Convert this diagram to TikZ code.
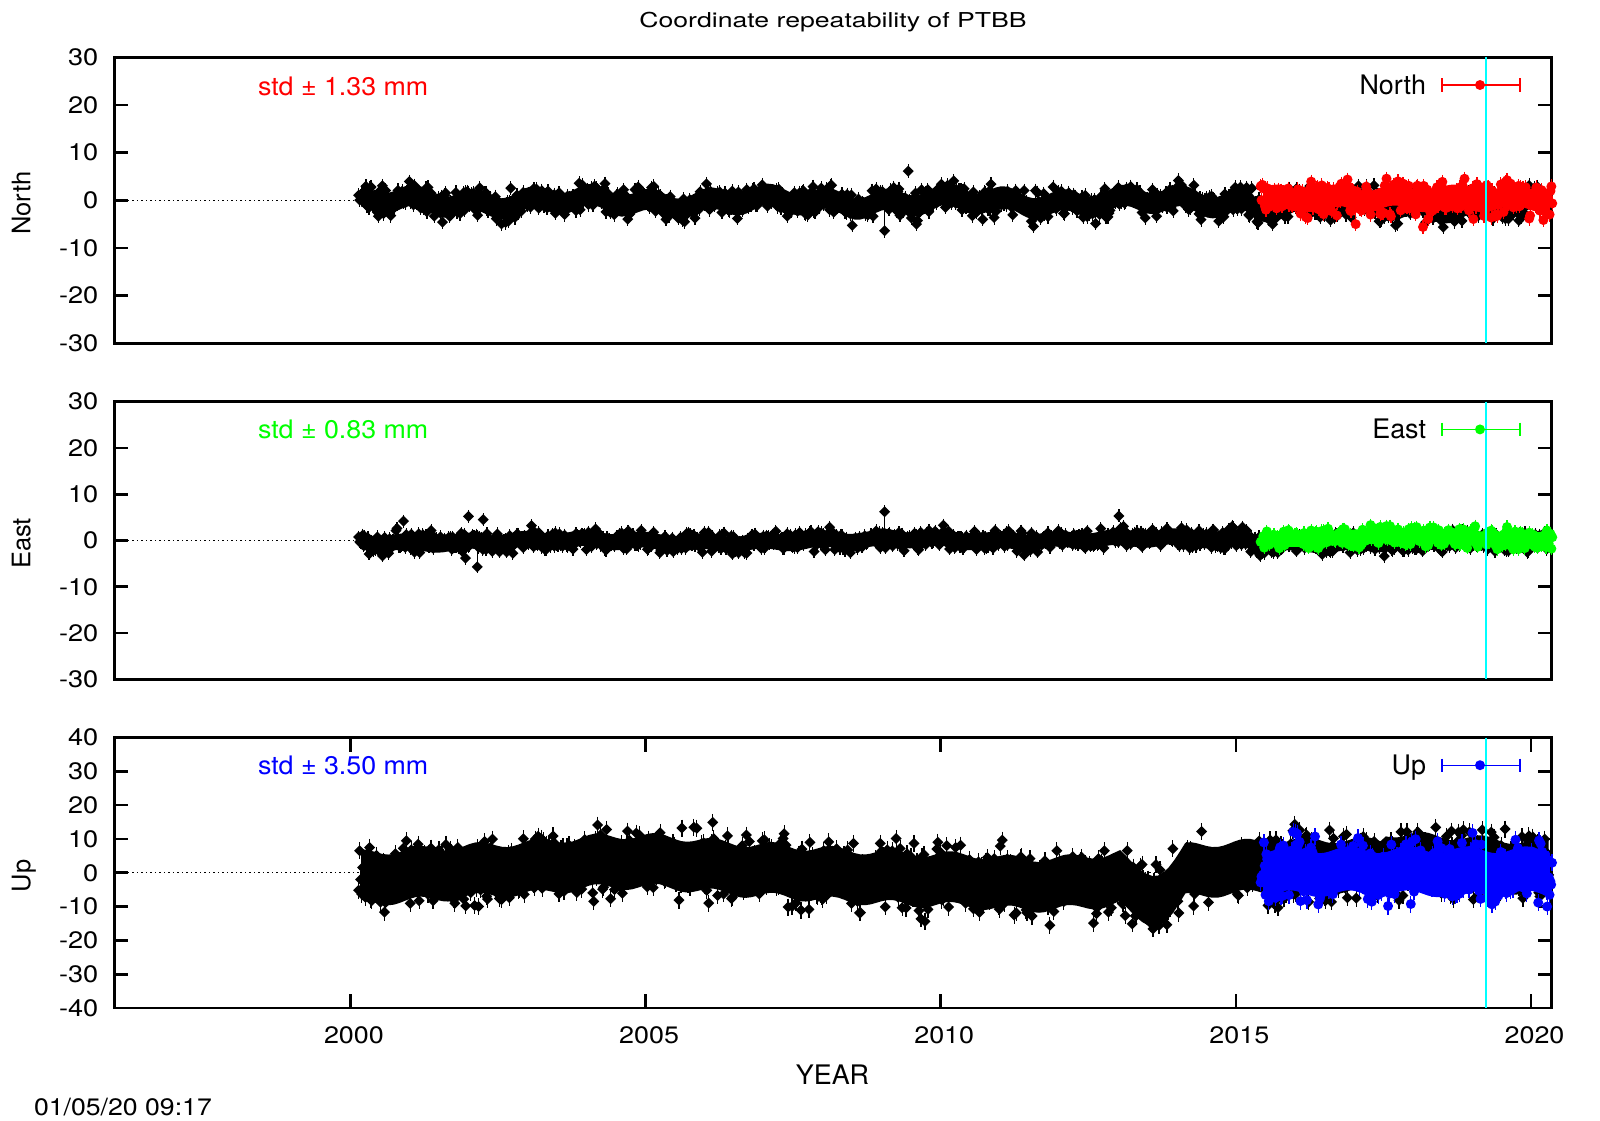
\documentclass[tikz,border=0pt]{standalone}
\usepackage{fontspec}
\setmainfont{TeX Gyre Heros}
\usepackage{graphicx}
\definecolor{gpred}{RGB}{255,0,0}
\definecolor{gpgreen}{RGB}{0,255,0}
\definecolor{gpblue}{RGB}{0,0,255}
\definecolor{gpcyan}{RGB}{0,255,255}
\newcommand\gpErr{7pt}
\newcommand\gptxt[3]{{\fontsize{#1pt}{#1pt}\selectfont\scalebox{#2}[1]{#3}}}
\pgfdeclareplotmark{gpdia}{%
  \pgfpathmoveto{\pgfqpoint{0pt}{\gpErr}}%
  \pgfpathlineto{\pgfqpoint{0pt}{-\gpErr}}%
  \pgfusepathqstroke
  \pgfpathmoveto{\pgfqpoint{0pt}{\pgfplotmarksize}}%
  \pgfpathlineto{\pgfqpoint{\pgfplotmarksize}{0pt}}%
  \pgfpathlineto{\pgfqpoint{0pt}{-\pgfplotmarksize}}%
  \pgfpathlineto{\pgfqpoint{-\pgfplotmarksize}{0pt}}%
  \pgfpathclose
  \pgfusepathqfill}
\pgfdeclareplotmark{gpdot}{%
  \pgfpathmoveto{\pgfqpoint{0pt}{\gpErr}}%
  \pgfpathlineto{\pgfqpoint{0pt}{-\gpErr}}%
  \pgfusepathqstroke
  \pgfpathcircle{\pgfpointorigin}{\pgfplotmarksize}%
  \pgfusepathqfill}
\tikzset{
  gpborder/.style={line width=2.7pt,draw=black},
  gptick/.style={line width=2.7pt,draw=black},
  gpzero/.style={line width=1pt,dash pattern=on 1.5pt off 3pt},
  gpcyanline/.style={line width=2pt,draw=gpcyan},
  ytl/.style={anchor=east,inner sep=0pt,outer sep=0pt},
  xtl/.style={anchor=base,inner sep=0pt,outer sep=0pt},
  gptext/.style={inner sep=0pt,outer sep=0pt},
  gpdata/.style={line width=1.2pt,mark size=5.5pt},
  gpdatac/.style={line width=1.2pt,mark size=5pt},
  keybar/.style={line width=1.4pt},
}
\begin{document}
\begin{tikzpicture}[x=1pt,y=-1pt,
  declare function={
    sw(\f,\t,\p)=sin(360*mod(\f*\t,1)+\p);
    sN(\t)=1.0*sin(360*\t+60)+0.6*sin(111.6*\t+20)-0.3-0.8*(\t>15.3);
    fN(\t)=0.5*sw(3.7,\t,70)+0.4*sw(6.3,\t,0);
    sR(\t)=0.7*sin(360*\t+200)+0.4;
    fR(\t)=0.6*sw(4.3,\t,10)+0.4*sw(7.7,\t,0);
    sE(\t)=0.4*sin(360*\t+100)+0.35*sin(72*\t+180)-0.2+0.4*(\t>9)-0.6*(\t>15.3);
    fE(\t)=0.3*sw(5.3,\t,0)+0.25*sw(8.9,\t,30);
    sG(\t)=0.2+0.8*max(0,1-((\t-17.8)/1.5)^2);
    fG(\t)=0.3*sw(4,\t,0)+0.25*sw(7,\t,50);
    sU(\t)=2.2*sin(30*\t-50)+1.0*sin(360*\t+30)+1.2*max(0,1-((\t-4.8)/1.5)^2)-1.5*max(0,1-((\t-12)/1.5)^2)-7.5*max(0,1-((\t-13.6)/0.55)^2)+2*(\t>17.5);
    fU(\t)=0.8*sw(4.1,\t,0)+0.6*sw(6.7,\t,40);
    sB(\t)=0.3+1.0*sin(360*\t+120);
    fB(\t)=0.8*sw(3.7,\t,0)+0.6*sw(5.7,\t,20);
  }]
\useasboundingbox (0,0) rectangle (1600,1120);
\fill[white] (0,0) rectangle (1600,1120);

% ---------------- title -----------------
\node[gptext,anchor=base] (title) at (833,27.3) {\gptxt{20.5}{1.3}{Coordinate repeatability of PTBB}};

% ---------------- panel 1 : North -----------------
\draw[gpzero] (114.3,200.3) -- (1551.7,200.3);
\draw[gpborder] (114.3,57.3) rectangle (1551.7,343.3);
\foreach \m in {-20,-10,0,10,20} {
  \draw[gptick] (114.3,{200.3-4.767*\m}) -- ++(14,0);
  \draw[gptick] (1551.7,{200.3-4.767*\m}) -- ++(-14,0);
}
\foreach \m [count=\i] in {-30,-20,-10,0,10,20,30}
  \node[ytl] (pay\i) at (98.3,{200.3-4.767*\m}) {\gptxt{23.8}{1.14}{\m}};
\node[gptext,anchor=base,rotate=90] (ylabA) at (30.3,203.3) {\gptxt{25.5}{1.0}{North}};
\begin{scope}[shift={(350.4,200.3)},x=59.03pt,y=4.767pt]
  \renewcommand\gpErr{7pt}
  \pgfmathsetseed{7}
  \fill[black] plot[samples=220,domain=0.18:20.3] (\x,{sN(\x)+2.2}) -- plot[samples=220,domain=20.3:0.18] (\x,{sN(\x)-2.2}) -- cycle;
  \draw[black,gpdata] plot[only marks,mark=gpdia,samples=1150,domain=0.14:20.3] (\x,{sN(\x)+fN(\x)+1.85*(rand+rand)});
  \draw[black,line width=1.2pt] (9.05,-1) -- (9.05,-6.3);
  \draw[black,gpdata] plot[only marks,mark=gpdia] coordinates {(9.05,-6.4) (9.45,6.1)};
  \fill[gpred] plot[samples=100,domain=15.46:20.32] (\x,{sR(\x)+2.2}) -- plot[samples=100,domain=20.32:15.46] (\x,{sR(\x)-2.2}) -- cycle;
  \draw[gpred,gpdatac] plot[only marks,mark=gpdot,samples=330,domain=15.42:20.36] (\x,{sR(\x)+fR(\x)+2.1*(rand+rand)});
  \draw[gpred,line width=1.2pt] (17.03,-1) -- (17.03,-5);
  \draw[gpred,gpdatac] plot[only marks,mark=gpdot] coordinates {(17.03,-5) (18.17,-5.6)};
\end{scope}
\draw[gpcyanline] (1486,57.3) -- (1486,343.3);
\node[gptext,anchor=base west,text=gpred] (stdA) at (258,95) {\gptxt{25.5}{1.05}{std ± 1.33 mm}};
\node[gptext,anchor=base east] (keyA) at (1426,94.3) {\gptxt{26.9}{1.0}{North}};
\coordinate (kAl) at (1442,85);
\coordinate (kAr) at (1520,85);
\coordinate (kAc) at (1480,85);
\draw[gpred,keybar] (kAl) -- (kAr);
\draw[gpred,keybar] ([yshift=6.7pt]kAl) -- ([yshift=-6.7pt]kAl);
\draw[gpred,keybar] ([yshift=6.7pt]kAr) -- ([yshift=-6.7pt]kAr);
\fill[gpred] (kAc) circle[radius=5pt];

% ---------------- panel 2 : East -----------------
\draw[gpzero] (114.3,540.5) -- (1551.7,540.5);
\draw[gpborder] (114.3,401.7) rectangle (1551.7,679.3);
\foreach \m in {-20,-10,0,10,20} {
  \draw[gptick] (114.3,{540.5-4.627*\m}) -- ++(14,0);
  \draw[gptick] (1551.7,{540.5-4.627*\m}) -- ++(-14,0);
}
\foreach \m [count=\i] in {-30,-20,-10,0,10,20,30}
  \node[ytl] (pby\i) at (98.3,{540.5-4.627*\m}) {\gptxt{23.8}{1.14}{\m}};
\node[gptext,anchor=base,rotate=90] (ylabB) at (30.3,543.5) {\gptxt{25.5}{1.0}{East}};
\begin{scope}[shift={(350.4,540.5)},x=59.03pt,y=4.627pt]
  \renewcommand\gpErr{6.5pt}
  \pgfmathsetseed{23}
  \fill[black] plot[samples=220,domain=0.18:20.3] (\x,{sE(\x)+1.7}) -- plot[samples=220,domain=20.3:0.18] (\x,{sE(\x)-1.7}) -- cycle;
  \draw[black,gpdata] plot[only marks,mark=gpdia,samples=1150,domain=0.14:20.3] (\x,{sE(\x)+fE(\x)+1.3*(rand+rand)});
  \draw[black,line width=1.2pt] (9.05,2) -- (9.05,6.2);
  \draw[black,line width=1.2pt] (2.15,-1) -- (2.15,-5.6);
  \draw[black,gpdata] plot[only marks,mark=gpdia] coordinates {(9.05,6.2) (2.15,-5.7) (2.0,5.2) (2.25,4.5) (13.02,5.3) (1.95,-3.8) (0.9,4.2)};
  \fill[gpgreen] plot[samples=100,domain=15.46:20.32] (\x,{sG(\x)+1.6}) -- plot[samples=100,domain=20.32:15.46] (\x,{sG(\x)-1.6}) -- cycle;
  \draw[gpgreen,gpdatac] plot[only marks,mark=gpdot,samples=330,domain=15.42:20.36] (\x,{sG(\x)+fG(\x)+1.25*(rand+rand)});
\end{scope}
\draw[gpcyanline] (1486,401.7) -- (1486,679.3);
\node[gptext,anchor=base west,text=gpgreen] (stdB) at (258,438.3) {\gptxt{25.5}{1.05}{std ± 0.83 mm}};
\node[gptext,anchor=base east] (keyB) at (1426,438.7) {\gptxt{26.9}{1.0}{East}};
\coordinate (kBl) at (1442,429.4);
\coordinate (kBr) at (1520,429.4);
\coordinate (kBc) at (1480,429.4);
\draw[gpgreen,keybar] (kBl) -- (kBr);
\draw[gpgreen,keybar] ([yshift=6.7pt]kBl) -- ([yshift=-6.7pt]kBl);
\draw[gpgreen,keybar] ([yshift=6.7pt]kBr) -- ([yshift=-6.7pt]kBr);
\fill[gpgreen] (kBc) circle[radius=5pt];

% ---------------- panel 3 : Up -----------------
\draw[gpzero] (114.3,872.75) -- (1551.7,872.75);
\draw[gpborder] (114.3,737.5) rectangle (1551.7,1008);
\foreach \m in {-30,-20,-10,0,10,20,30} {
  \draw[gptick] (114.3,{872.75-3.381*\m}) -- ++(14,0);
  \draw[gptick] (1551.7,{872.75-3.381*\m}) -- ++(-14,0);
}
\foreach \m [count=\i] in {-40,-30,-20,-10,0,10,20,30,40}
  \node[ytl] (pcy\i) at (98.3,{872.75-3.381*\m}) {\gptxt{23.8}{1.14}{\m}};
\foreach \yr [count=\i] in {2000,2005,2010,2015,2020} {
  \draw[gptick] ({114.3+59.03*(\yr-1996)},1008) -- ++(0,-14);
  \draw[gptick] ({114.3+59.03*(\yr-1996)},737.5) -- ++(0,14);
  \node[xtl] (pcx\i) at ({117.8+59.03*(\yr-1996)},1043.3) {\gptxt{23.8}{1.13}{\yr}};
}
\node[gptext,anchor=base,rotate=90] (ylabC) at (30.3,875.8) {\gptxt{25.5}{1.0}{Up}};
\begin{scope}[shift={(350.4,872.75)},x=59.03pt,y=3.381pt]
  \renewcommand\gpErr{8.5pt}
  \pgfmathsetseed{41}
  \fill[black] plot[samples=220,domain=0.18:20.3] (\x,{sU(\x)+7.5}) -- plot[samples=220,domain=20.3:0.18] (\x,{sU(\x)-7.5}) -- cycle;
  \draw[black,gpdata] plot[only marks,mark=gpdia,samples=1200,domain=0.14:20.3] (\x,{sU(\x)+fU(\x)+6.3*(rand+rand)});
  \fill[gpblue] plot[samples=100,domain=15.46:20.32] (\x,{sB(\x)+6.5}) -- plot[samples=100,domain=20.32:15.46] (\x,{sB(\x)-6.5}) -- cycle;
  \draw[gpblue,gpdatac] plot[only marks,mark=gpdot,samples=360,domain=15.42:20.36] (\x,{sB(\x)+fB(\x)+5.6*(rand+rand)});
\end{scope}
\draw[gpcyanline] (1486,737.5) -- (1486,1008);
\node[gptext,anchor=base west,text=gpblue] (stdC) at (258,774.3) {\gptxt{25.5}{1.05}{std ± 3.50 mm}};
\node[gptext,anchor=base east] (keyC) at (1426,774.5) {\gptxt{26.9}{1.0}{Up}};
\coordinate (kCl) at (1442,765.2);
\coordinate (kCr) at (1520,765.2);
\coordinate (kCc) at (1480,765.2);
\draw[gpblue,keybar] (kCl) -- (kCr);
\draw[gpblue,keybar] ([yshift=6.7pt]kCl) -- ([yshift=-6.7pt]kCl);
\draw[gpblue,keybar] ([yshift=6.7pt]kCr) -- ([yshift=-6.7pt]kCr);
\fill[gpblue] (kCc) circle[radius=5pt];

% ---------------- axis label and date -----------------
\node[gptext,anchor=base] (xlab) at (832.5,1084.3) {\gptxt{26.9}{1.0}{YEAR}};
\node[gptext,anchor=base west] (date) at (34,1115) {\gptxt{23.8}{1.12}{01/05/20 09:17}};
\end{tikzpicture}
\end{document}
